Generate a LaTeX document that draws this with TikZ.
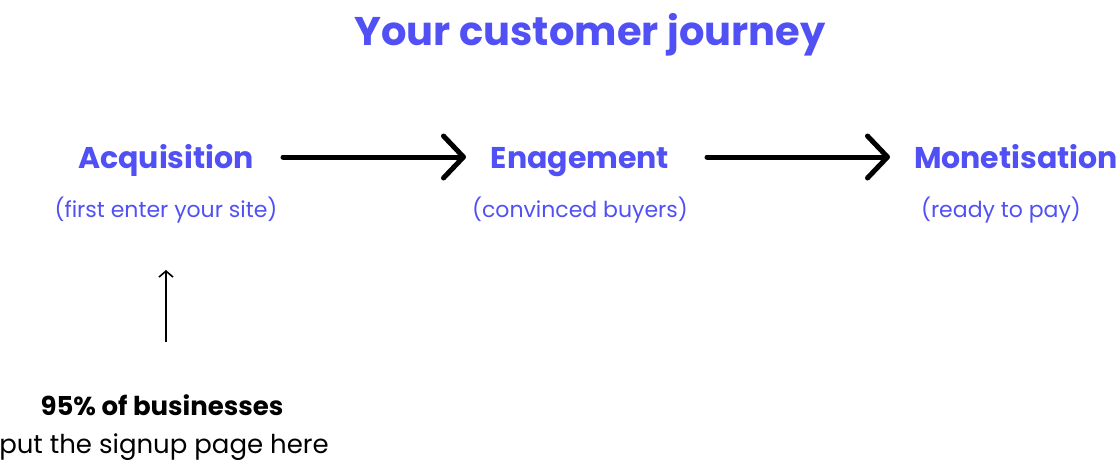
\documentclass[tikz,border=0pt]{standalone}
\usepackage{fontspec}
\setmainfont{Poppins}
\usetikzlibrary{arrows.meta}
\definecolor{journeyblue}{HTML}{5050F5}
\tikzset{
  stage/.style={anchor=base, text=journeyblue, font=\fontsize{30}{36}\selectfont\bfseries},
  stagenote/.style={anchor=base, text=journeyblue, font=\fontsize{22}{26}\selectfont},
  bigarrow/.style={line width=5pt, line cap=round, -{Straight Barb[length=20pt,width=42pt,round]}},
}
\begin{document}
\begin{tikzpicture}[x=1pt,y=-1pt]
\useasboundingbox (0,0) rectangle (1118,466);
% title
\node[anchor=base, text=journeyblue, font=\fontsize{40}{46}\selectfont\bfseries] (title) at (590,45) {Your customer journey};
% stages
\node[stage] (acq) at (166,168) {Acquisition};
\node[stage] (eng) at (580,168) {Enagement};
\node[stage] (mon) at (1016,168) {Monetisation};
\node[stagenote] (acqnote) at (166,217) {(first enter your site)};
\node[stagenote] (engnote) at (580,217) {(convinced buyers)};
\node[stagenote] (monnote) at (1001,217) {(ready to pay)};
\coordinate (a1s) at (283,157); \coordinate (a1e) at (466,157);
\coordinate (a2s) at (707,157); \coordinate (a2e) at (890,157);
\draw[bigarrow] (a1s) -- (a1e);
\draw[bigarrow] (a2s) -- (a2e);
% signup note
\node[anchor=base, font=\fontsize{26}{30}\selectfont\bfseries] (most) at (162,415) {95\% of businesses};
\node[anchor=base, font=\fontsize{26}{30}\selectfont] (signup) at (164,453) {put the signup page here};
\coordinate (up) at (166,342); \coordinate (uptip) at (166,270);
\draw[line width=1.6pt, -{Straight Barb[length=6pt,width=14pt]}] (up) -- (uptip);
\end{tikzpicture}
\end{document}
